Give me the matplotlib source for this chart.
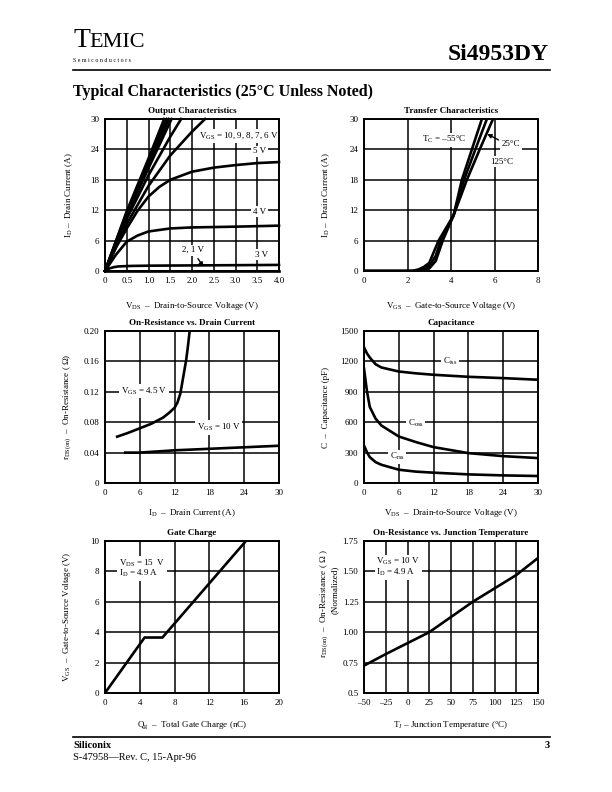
import matplotlib
matplotlib.use("Agg")
import matplotlib.pyplot as plt
from matplotlib import rcParams

# fonts: Times-like serif everywhere, mathtext too (for subscripts)
rcParams.update({
    "font.family": "serif",
    "font.serif": ["Liberation Serif", "DejaVu Serif"],
    "mathtext.fontset": "custom",
    "mathtext.rm": "Liberation Serif",
    "mathtext.it": "Liberation Serif:italic",
    "mathtext.bf": "Liberation Serif:bold",
})

# ---- data ----
# Output characteristics (VDS [V], ID [A])
out_vds_10 = [0, 0.5, 1.0, 1.36]
out_id_10 = [0, 11.8, 22.2, 30]
out_vds_9 = [0, 0.5, 1.0, 1.42]
out_id_9 = [0, 11.5, 21.6, 30]
out_vds_8 = [0, 0.5, 1.0, 1.47]
out_id_8 = [0, 11.2, 21.0, 30]
out_vds_7 = [0, 0.5, 1.0, 1.53]
out_id_7 = [0, 10.9, 20.3, 30]
out_vds_6 = [0, 0.5, 1.0, 1.5, 1.75]
out_id_6 = [0, 10.3, 18.9, 26.5, 30]
out_vds_6b = [0, 0.5, 1.0, 1.5, 2.0, 2.3]
out_id_6b = [0, 9.3, 16.8, 22.8, 27.5, 30]
out_vds_5 = [0, 0.25, 0.5, 0.75, 1.0, 1.25, 1.5, 2.0, 2.5, 3.0, 3.5, 4.0]
out_id_5 = [0, 4.6, 8.4, 11.9, 14.7, 16.6, 18.0, 19.6, 20.4, 20.9, 21.3, 21.5]
out_vds_4 = [0, 0.25, 0.5, 0.75, 1.0, 1.5, 2.0, 3.0, 4.0]
out_id_4 = [0, 3.2, 5.8, 7.0, 7.8, 8.4, 8.6, 8.75, 8.95]
out_vds_3 = [0, 0.1, 0.2, 0.3, 0.6, 1.0, 2.0, 4.0]
out_id_3 = [0, 0.5, 0.75, 0.9, 1.0, 1.05, 1.1, 1.2]
out_vds_21 = [0, 4.0]
out_id_21 = [0, 0]

# Transfer characteristics (VGS [V], ID [A])
tr_vgs_m55 = [0, 2.6, 2.8, 3.0, 3.3, 3.62, 4.12, 4.5, 4.96, 5.42]
tr_id_m55 = [0, 0, 0.1, 0.5, 2.0, 6.0, 11.0, 18.0, 24.0, 30.0]
tr_vgs_25 = [0, 2.4, 2.7, 3.0, 3.3, 3.53, 4.12, 4.6, 5.12, 5.65]
tr_id_25 = [0, 0, 0.3, 1.0, 3.0, 6.0, 11.0, 18.0, 24.0, 30.0]
tr_vgs_125 = [0, 2.2, 2.5, 2.75, 3.0, 3.43, 4.12, 4.73, 5.32, 5.93]
tr_id_125 = [0, 0, 0.3, 0.8, 1.6, 6.0, 11.0, 18.0, 24.0, 30.0]

# On-resistance vs drain current (ID [A], rDS(on) [ohm])
ron_id_45 = [2.1, 4, 6, 8, 9, 10, 11, 12, 12.5, 13, 13.5, 14, 14.3, 14.6]
ron_r_45 = [0.061, 0.066, 0.072, 0.078, 0.082, 0.086, 0.092, 0.099, 0.106, 0.118, 0.140, 0.162, 0.180, 0.200]
ron_id_10 = [3.5, 6, 12, 18, 24, 30]
ron_r_10 = [0.040, 0.040, 0.043, 0.045, 0.047, 0.049]

# Capacitance (VDS [V], C [pF])
cap_vds = [0, 0.5, 1, 2, 3, 6, 9, 12, 18, 24, 30]
cap_ciss = [1340, 1280, 1238, 1172, 1140, 1100, 1082, 1068, 1048, 1035, 1019]
cap_coss = [1130, 910, 750, 635, 567, 459, 403, 354, 295, 265, 246]
cap_crss = [370, 305, 255, 206, 180, 131, 112, 102, 85, 75, 69]

# Gate charge (Qg [nC], VGS [V])
gc_qg = [0, 4.55, 6.6, 16.2]
gc_vgs = [0, 3.65, 3.65, 10]

# On-resistance vs junction temperature (TJ [C], normalized rDS(on))
rt_tj = [-50, -25, 0, 25, 50, 75, 100, 125, 150]
rt_r = [0.725, 0.82, 0.91, 1.0, 1.125, 1.25, 1.36, 1.47, 1.61]

fs = 6.5
lw = 1.9
W, H = 612, 792


def px_axes(left, top, right, bottom):
    return fig.add_axes([left / W, 1 - bottom / H, (right - left) / W, (bottom - top) / H])


def setup(ax, xlim, ylim, xticks, xtl, yticks, ytl, title, xlabel, ylabel, xlc, ylc):
    ax.set_xlim(xlim)
    ax.set_ylim(ylim)
    ax.set_xticks(xticks, xtl)
    ax.set_yticks(yticks, ytl)
    ax.set_axisbelow(True)
    ax.grid(color="k", lw=1.1)
    ax.tick_params(length=0, labelsize=fs, pad=4)
    for s in ax.spines.values():
        s.set_linewidth(1.4)
    ax.set_title(title, fontsize=fs, fontweight="bold", pad=4)
    ax.set_xlabel(xlabel, fontsize=fs)
    ax.xaxis.set_label_coords(0.5, xlc)
    if ylabel:
        ax.set_ylabel(ylabel, fontsize=fs)
        ax.yaxis.set_label_coords(ylc, 0.5)


def label(ax, x, y, s, **kw):
    ax.text(x, y, s, fontsize=fs, va="center", zorder=2.5,
            bbox=dict(facecolor="white", edgecolor="none", pad=1.2), **kw)


fig = plt.figure(figsize=(6.12, 7.92), dpi=100)

# ---- header / footer ----
fig.text(73 / W, 1 - 47 / H, "T", fontsize=20, va="baseline")
fig.text(89 / W, 1 - 47 / H, "EMIC", fontsize=16, va="baseline")
fig.text(73 / W, 1 - 60 / H, "S e m i c o n d u c t o r s", fontsize=4.2, va="center")
fig.text(549 / W, 1 - 55 / H, "Si4953DY", fontsize=17, fontweight="bold", ha="right", va="center")
fig.add_artist(plt.Line2D([73 / W, 550 / W], [1 - 70 / H, 1 - 70 / H], color="k", lw=1.2))
fig.text(73 / W, 1 - 92 / H, "Typical Characteristics (25\u00b0C Unless Noted)",
         fontsize=11.5, fontweight="bold", va="center")
fig.add_artist(plt.Line2D([73 / W, 550 / W], [1 - 737 / H, 1 - 737 / H], color="k", lw=1.2))
fig.text(73 / W, 1 - 745 / H, "Siliconix", fontsize=7.5, fontweight="bold", va="center")
fig.text(73 / W, 1 - 757 / H, "S-47958\u2014Rev. C, 15-Apr-96", fontsize=7.5, va="center")
fig.text(550 / W, 1 - 745 / H, "3", fontsize=7.5, fontweight="bold", va="center", ha="right")

# ---- Output Characteristics ----
ax = px_axes(105, 119, 279, 271)
for xs, ys in [(out_vds_10, out_id_10), (out_vds_9, out_id_9), (out_vds_8, out_id_8),
               (out_vds_7, out_id_7), (out_vds_6, out_id_6), (out_vds_6b, out_id_6b),
               (out_vds_5, out_id_5), (out_vds_4, out_id_4), (out_vds_3, out_id_3),
               (out_vds_21, out_id_21)]:
    ax.plot(xs, ys, color="k", lw=lw, zorder=4, clip_on=False)
setup(ax, (0, 4), (0, 30), [0, 0.5, 1, 1.5, 2, 2.5, 3, 3.5, 4],
      ["0", "0.5", "1.0", "1.5", "2.0", "2.5", "3.0", "3.5", "4.0"],
      [0, 6, 12, 18, 24, 30], ["0", "6", "12", "18", "24", "30"],
      "Output Characteristics",
      "V$_{\\mathrm{DS}}$  \u2013  Drain-to-Source Voltage (V)",
      "I$_{\\mathrm{D}}$ \u2013  Drain Current (A)", -0.19, -0.172)
label(ax, 2.15, 26.6, "V$_{\\mathrm{GS}}$ = 10, 9, 8, 7, 6 V")
label(ax, 3.4, 23.6, "5 V")
label(ax, 3.4, 11.7, "4 V")
label(ax, 3.45, 3.2, "3 V")
label(ax, 1.76, 4.1, "2, 1 V")
ax.annotate("", xy=(2.3, 0.4), xytext=(2.1, 2.9),
            arrowprops=dict(arrowstyle="-|>", color="k", lw=1, mutation_scale=6), zorder=5)

# ---- Transfer Characteristics ----
ax = px_axes(364, 119, 538, 271)
for xs, ys in [(tr_vgs_m55, tr_id_m55), (tr_vgs_25, tr_id_25), (tr_vgs_125, tr_id_125)]:
    ax.plot(xs, ys, color="k", lw=lw, zorder=4)
setup(ax, (0, 8), (0, 30), [0, 2, 4, 6, 8], ["0", "2", "4", "6", "8"],
      [0, 6, 12, 18, 24, 30], ["0", "6", "12", "18", "24", "30"],
      "Transfer Characteristics",
      "V$_{\\mathrm{GS}}$  \u2013  Gate-to-Source Voltage (V)",
      "I$_{\\mathrm{D}}$ \u2013  Drain Current (A)", -0.19, -0.184)
label(ax, 2.65, 25.9, "T$_{\\mathrm{C}}$ = \u201355\u00b0C")
label(ax, 6.35, 25.0, "25\u00b0C")
label(ax, 5.8, 21.6, "125\u00b0C")
ax.annotate("", xy=(5.55, 27.3), xytext=(6.3, 25.6),
            arrowprops=dict(arrowstyle="-|>", color="k", lw=1, mutation_scale=6), zorder=5)

# ---- On-Resistance vs. Drain Current ----
ax = px_axes(105, 331, 279, 483)
ax.plot(ron_id_45, ron_r_45, color="k", lw=lw, zorder=4)
ax.plot(ron_id_10, ron_r_10, color="k", lw=lw, zorder=4)
setup(ax, (0, 30), (0, 0.2), [0, 6, 12, 18, 24, 30], ["0", "6", "12", "18", "24", "30"],
      [0, 0.04, 0.08, 0.12, 0.16, 0.2], ["0", "0.04", "0.08", "0.12", "0.16", "0.20"],
      "On-Resistance vs. Drain Current",
      "I$_{\\mathrm{D}}$  \u2013  Drain Current (A)",
      "r$_{\\mathrm{DS(on)}}$  \u2013  On-Resistance ( \u03a9)", -0.158, -0.178)
label(ax, 2.7, 0.121, "V$_{\\mathrm{GS}}$ = 4.5 V")
label(ax, 15.8, 0.073, "V$_{\\mathrm{GS}}$ = 10 V")

# ---- Capacitance ----
ax = px_axes(364, 331, 538, 483)
for ys in [cap_ciss, cap_coss, cap_crss]:
    ax.plot(cap_vds, ys, color="k", lw=lw, zorder=4)
setup(ax, (0, 30), (0, 1500), [0, 6, 12, 18, 24, 30], ["0", "6", "12", "18", "24", "30"],
      [0, 300, 600, 900, 1200, 1500], ["0", "300", "600", "900", "1200", "1500"],
      "Capacitance",
      "V$_{\\mathrm{DS}}$  \u2013  Drain-to-Source Voltage (V)",
      "C  \u2013  Capacitance (pF)", -0.16, -0.195)
label(ax, 13.6, 1200, "C$_{\\mathrm{iss}}$")
label(ax, 7.5, 593, "C$_{\\mathrm{oss}}$")
label(ax, 4.4, 258, "C$_{\\mathrm{rss}}$")

# ---- Gate Charge ----
ax = px_axes(105, 541, 279, 693)
ax.plot(gc_qg, gc_vgs, color="k", lw=lw, zorder=4)
setup(ax, (0, 20), (0, 10), [0, 4, 8, 12, 16, 20], ["0", "4", "8", "12", "16", "20"],
      [0, 2, 4, 6, 8, 10], ["0", "2", "4", "6", "8", "10"],
      "Gate Charge",
      "Q$_{\\mathrm{g}}$  \u2013  Total Gate Charge (nC)",
      "V$_{\\mathrm{GS}}$  \u2013  Gate-to-Source Voltage (V)", -0.17, -0.184)
label(ax, 1.6, 8.2, "V$_{\\mathrm{DS}}$ = 15  V\nI$_{\\mathrm{D}}$ = 4.9 A", linespacing=0.95)

# ---- On-Resistance vs. Junction Temperature ----
ax = px_axes(364, 541, 538, 693)
ax.plot(rt_tj, rt_r, color="k", lw=lw, zorder=4)
setup(ax, (-50, 150), (0.5, 1.75), [-50, -25, 0, 25, 50, 75, 100, 125, 150],
      ["\u201350", "\u201325", "0", "25", "50", "75", "100", "125", "150"],
      [0.5, 0.75, 1.0, 1.25, 1.5, 1.75], ["0.5", "0.75", "1.00", "1.25", "1.50", "1.75"],
      "On-Resistance vs. Junction Temperature",
      "T$_{\\mathrm{J}}$ \u2013 Junction Temperature (\u00b0C)",
      None, -0.17, None)
ax.text(-0.228, 0.585, "r$_{\\mathrm{DS(on)}}$  \u2013  On-Resistance ( \u03a9 )",
        transform=ax.transAxes, rotation=90, fontsize=fs, ha="center", va="center")
ax.text(-0.168, 0.68, "(Normalized)", transform=ax.transAxes, rotation=90,
        fontsize=fs, ha="center", va="center")
label(ax, -36, 1.535, "V$_{\\mathrm{GS}}$ = 10 V\nI$_{\\mathrm{D}}$ = 4.9 A", linespacing=0.95)

fig.savefig("out.png", dpi=100)
